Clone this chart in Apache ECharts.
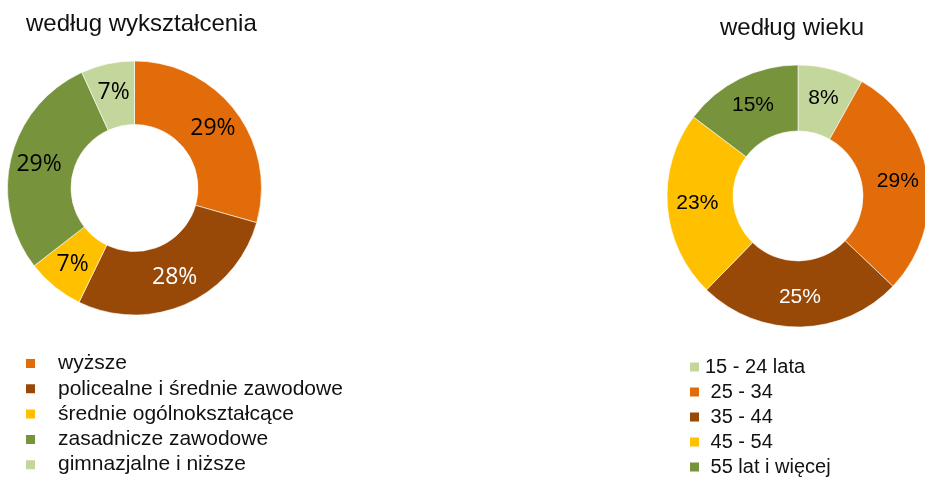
<!DOCTYPE html>
<html>
<head>
<meta charset="utf-8">
<script src="https://cdn.jsdelivr.net/npm/echarts@6/dist/echarts.min.js"></script>
<style>
  html, body { margin: 0; padding: 0; background: #fff; }
  #chart { width: 925px; height: 477px; }
</style>
</head>
<body>
<div id="chart"></div>
<script>
// według wykształcenia
const eduNames = ['wyższe', 'policealne i średnie zawodowe', 'średnie ogólnokształcące', 'zasadnicze zawodowe', 'gimnazjalne i niższe'];
const eduValues = [29.4, 27.8, 7.3, 28.7, 6.8];
const eduColors = ['#E36C0A', '#984807', '#FFC000', '#77933C', '#C3D69B'];

// według wieku
const ageNames = ['15 - 24 lata', ' 25 - 34', ' 35 - 44', ' 45 - 54', ' 55 lat i więcej'];
const ageValues = [8.1, 29.0, 25.2, 23.0, 14.7];
const ageColors = ['#C3D69B', '#E36C0A', '#984807', '#FFC000', '#77933C'];

const chart = echarts.init(document.getElementById('chart'));

function toData(names, values, colors) {
  return names.map((n, i) => ({
    name: n,
    value: values[i],
    itemStyle: { color: colors[i] },
    label: { color: colors[i] === '#984807' ? '#fff' : '#000' },
  }));
}

chart.setOption({
  animation: false,
  title: [
    {
      text: 'według wykształcenia',
      left: 26,
      top: 12,
      padding: 0,
      textStyle: { fontFamily: 'Liberation Sans', fontSize: 24, fontWeight: 'normal', color: '#111' },
    },
    {
      text: 'według wieku',
      left: 720,
      top: 16,
      padding: 0,
      textStyle: { fontFamily: 'Liberation Sans', fontSize: 24, fontWeight: 'normal', color: '#111' },
    },
  ],
  legend: [
    {
      data: eduNames,
      orient: 'vertical',
      left: 24,
      top: 353,
      height: 140,
      padding: 0,
      icon: 'rect',
      itemWidth: 11,
      itemHeight: 11,
      itemGap: 4.3,
      selectedMode: false,
      textStyle: {
        fontFamily: 'Liberation Sans',
        fontSize: 21,
        lineHeight: 21,
        color: '#111',
        padding: [0, 0, 0, 17],
      },
    },
    {
      data: ageNames,
      orient: 'vertical',
      left: 688,
      top: 357,
      height: 140,
      padding: 0,
      icon: 'rect',
      itemWidth: 11,
      itemHeight: 11,
      itemGap: 5,
      selectedMode: false,
      textStyle: {
        fontFamily: 'Liberation Sans',
        fontSize: 20,
        lineHeight: 20,
        color: '#111',
      },
    },
  ],
  series: [
    {
      name: 'wykształcenie',
      type: 'pie',
      center: [134.5, 188],
      radius: [63.5, 127],
      startAngle: 90,
      clockwise: true,
      percentPrecision: 0,
      avoidLabelOverlap: false,
      emphasis: { disabled: true },
      itemStyle: { borderColor: '#fff', borderWidth: 0.6 },
      label: {
        position: 'inside',
        formatter: '{d}%',
        fontFamily: 'Open Sans',
        fontSize: 23,
      },
      labelLine: { show: false },
      data: toData(eduNames, eduValues, eduColors),
    },
    {
      name: 'wiek',
      type: 'pie',
      center: [798, 196],
      radius: [65, 131],
      startAngle: 90,
      clockwise: true,
      percentPrecision: 0,
      avoidLabelOverlap: false,
      emphasis: { disabled: true },
      itemStyle: { borderColor: '#fff', borderWidth: 0.6 },
      label: {
        position: 'inside',
        formatter: '{d}%',
        fontFamily: 'Liberation Sans',
        fontSize: 21,
      },
      labelLine: { show: false },
      data: toData(ageNames, ageValues, ageColors),
    },
  ],
});
</script>
</body>
</html>
